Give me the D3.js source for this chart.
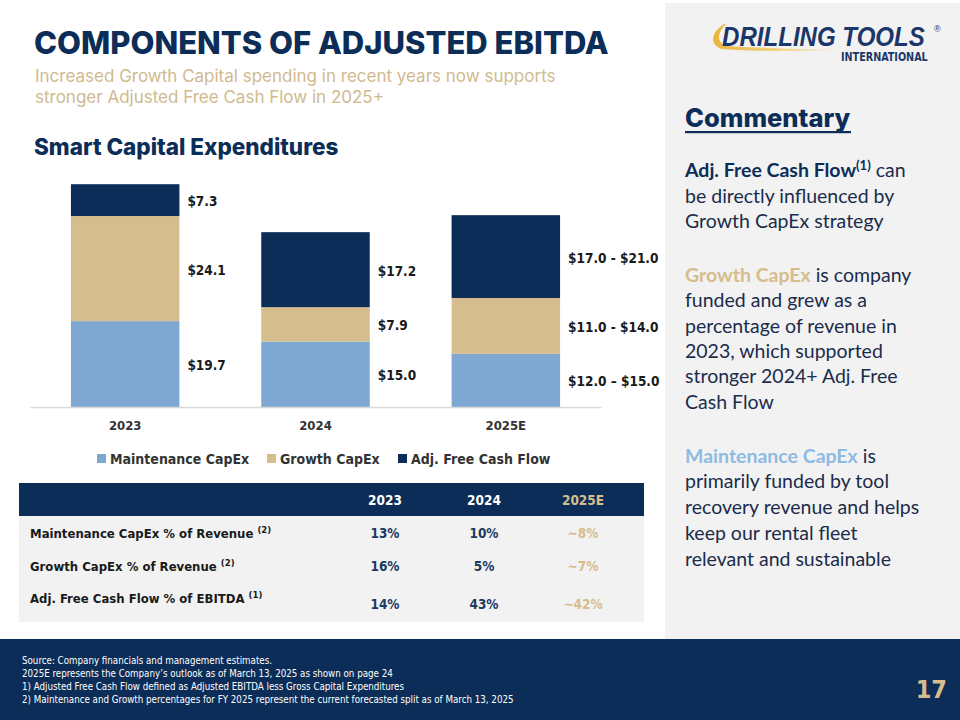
<!DOCTYPE html>
<html>
<head>
<meta charset="utf-8">
<script src="https://cdn.jsdelivr.net/npm/d3@7"></script>
<style>
  body { margin: 0; background: #fff; }
  svg { display: block; }
</style>
</head>
<body>
<div id="chart"></div>
<script>
// chart data
var years = ["2023", "2024", "2025E"];
var maintenance = [19.7, 15.0, 12.2];
var growth = [24.1, 7.9, 12.8];
var freeCash = [7.3, 17.2, 19.0];
var maintLabels = ["$19.7", "$15.0", "$12.0 \u2013 $15.0"];
var growthLabels = ["$24.1", "$7.9", "$11.0 - $14.0"];
var cashLabels = ["$7.3", "$17.2", "$17.0 - $21.0"];
var seriesNames = ["Maintenance CapEx", "Growth CapEx", "Adj. Free Cash Flow"];

// table data
var tableCols = ["2023", "2024", "2025E"];
var tableRows = ["Maintenance CapEx % of Revenue", "Growth CapEx % of Revenue", "Adj. Free Cash Flow % of EBITDA"];
var tableNotes = ["(2)", "(2)", "(1)"];
var tableValues = [["13%", "10%", "~8%"], ["16%", "5%", "~7%"], ["14%", "43%", "~42%"]];

var footNotes = [
  "Source: Company financials and management estimates.",
  "2025E represents the Company\u2019s outlook as of March 13, 2025 as shown on page 24",
  "1)   Adjusted Free Cash Flow defined as Adjusted EBITDA less Gross Capital Expenditures",
  "2)  Maintenance and Growth percentages for FY 2025 represent the current forecasted split as of March 13, 2025"
];

var navy = "#0c2d57", tan = "#d5bd8d", blue = "#7ea8d1";
var colors = [blue, tan, navy];
var narrow = "'Liberation Sans Narrow', 'DejaVu Sans Condensed', sans-serif";
var body = "Lato, 'Open Sans', sans-serif";
var heading = "Inter, 'Open Sans', sans-serif";

var svg = d3.select("#chart").append("svg")
    .attr("width", 960)
    .attr("height", 720);

// right panel + footer band
svg.append("rect").attr("x", 665).attr("y", 3).attr("width", 295).attr("height", 637).attr("fill", "#f2f2f2");
svg.append("rect").attr("x", 0).attr("y", 639).attr("width", 960).attr("height", 81).attr("fill", navy);

// titles
svg.append("text").attr("x", 34).attr("y", 54)
    .attr("font-family", heading).attr("font-weight", 800).attr("font-size", 31)
    .attr("fill", navy).text("COMPONENTS OF ADJUSTED EBITDA");
svg.append("text").attr("x", 35).attr("y", 82)
    .attr("font-family", heading).attr("font-size", 17).attr("fill", "#d0ba8e")
    .selectAll("tspan").data(["Increased Growth Capital spending in recent years now supports", "stronger Adjusted Free Cash Flow in 2025+"])
    .enter().append("tspan").attr("x", 35).attr("dy", function(d, i) { return i ? 21 : 0; }).text(function(d) { return d; });
svg.append("text").attr("x", 34).attr("y", 155)
    .attr("font-family", heading).attr("font-weight", 800).attr("font-size", 22.5)
    .attr("fill", navy).text("Smart Capital Expenditures");

// stacked bars
var x = d3.scaleBand().domain(years).range([30, 601]).paddingInner(0.43).paddingOuter(0.215);
var y = d3.scaleLinear().domain([0, 55]).range([407, 167.2]);

var stackData = years.map(function(yr, i) {
  return { year: yr, m: maintenance[i], g: growth[i], f: freeCash[i] };
});
var stack = d3.stack().keys(["m", "g", "f"])(stackData);
var labelSets = [maintLabels, growthLabels, cashLabels];

var g = svg.append("g").attr("class", "bars");
g.selectAll("g.series")
  .data(stack)
  .enter().append("g")
    .attr("class", "series")
    .attr("fill", function(d, i) { return colors[i]; })
  .selectAll("rect")
  .data(function(d) { return d; })
  .enter().append("rect")
    .attr("x", function(d) { return x(d.data.year); })
    .attr("y", function(d) { return y(d[1]); })
    .attr("width", x.bandwidth())
    .attr("height", function(d) { return y(d[0]) - y(d[1]); });

stack.forEach(function(s, si) {
  g.selectAll("text.l" + si)
    .data(s)
    .enter().append("text")
      .attr("class", "l" + si)
      .attr("x", function(d) { return x(d.data.year) + x.bandwidth() + 8; })
      .attr("y", function(d) { return (y(d[0]) + y(d[1])) / 2 + 6; })
      .attr("font-family", narrow).attr("font-weight", 700).attr("font-size", 13.5)
      .attr("fill", "#1a1a1a")
      .text(function(d, i) { return labelSets[si][i]; });
});

// x axis
var xAxis = svg.append("g").attr("transform", "translate(0,407)")
    .call(d3.axisBottom(x).tickSize(0).tickPadding(14));
xAxis.select(".domain").attr("stroke", "#d9d9d9").attr("stroke-width", 1.5);
xAxis.selectAll("text")
    .attr("font-family", narrow).attr("font-weight", 700).attr("font-size", 13)
    .attr("fill", "#333");

// legend
var legendX = [97, 267, 398];
var legend = svg.append("g").selectAll("g").data(seriesNames).enter().append("g")
    .attr("transform", function(d, i) { return "translate(" + legendX[i] + ",453)"; });
legend.append("rect").attr("width", 9).attr("height", 9).attr("y", 1)
    .attr("fill", function(d, i) { return colors[i]; });
legend.append("text").attr("x", 13).attr("y", 10.5)
    .attr("font-family", narrow).attr("font-weight", 700).attr("font-size", 14)
    .attr("fill", "#333").text(function(d) { return d; });

// table
var colX = d3.scalePoint().domain(tableCols).range([385, 583]);
svg.append("rect").attr("x", 19).attr("y", 516).attr("width", 625).attr("height", 106).attr("fill", "#f2f2f2");
svg.append("rect").attr("x", 19).attr("y", 483).attr("width", 625).attr("height", 33).attr("fill", navy);
svg.append("g").selectAll("text").data(tableCols).enter().append("text")
    .attr("x", function(d) { return colX(d); }).attr("y", 505)
    .attr("text-anchor", "middle")
    .attr("font-family", narrow).attr("font-weight", 700).attr("font-size", 13.5)
    .attr("fill", function(d, i) { return i === 2 ? tan : "#fff"; })
    .text(function(d) { return d; });

var rowY = [538, 571, 603];
var valY = [538, 571, 609];
var rows = svg.append("g").selectAll("g").data(tableRows).enter().append("g");
var rowLabel = rows.append("text").attr("x", 30).attr("y", function(d, i) { return rowY[i]; })
    .attr("font-family", narrow).attr("font-weight", 700).attr("font-size", 13)
    .attr("fill", "#1a1a1a");
rowLabel.append("tspan").text(function(d) { return d + " "; });
rowLabel.append("tspan").attr("font-size", 9.5).attr("dy", -5).text(function(d, i) { return tableNotes[i]; });
rows.selectAll("text.v").data(function(d, i) { return tableValues[i].map(function(v) { return { v: v, r: i }; }); })
  .enter().append("text").attr("class", "v")
    .attr("x", function(d, j) { return colX(tableCols[j]); })
    .attr("y", function(d) { return valY[d.r]; })
    .attr("text-anchor", "middle")
    .attr("font-family", narrow).attr("font-weight", 700).attr("font-size", 13.5)
    .attr("fill", function(d, j) { return j === 2 ? tan : "#1e3a64"; })
    .text(function(d) { return d.v; });

// logo
var defs = svg.append("defs");
var grad = defs.append("linearGradient").attr("id", "gold").attr("x1", "0").attr("x2", "1");
grad.append("stop").attr("offset", "0").attr("stop-color", "#e9b53a");
grad.append("stop").attr("offset", "0.5").attr("stop-color", "#f2d58a");
grad.append("stop").attr("offset", "1").attr("stop-color", "#f2d58a").attr("stop-opacity", 0);
svg.append("path")
    .attr("d", "M724,24 C712,32 708,44 722,49 C760,52 800,51 850,50 C800,49 760,48 727,46 C716,43 717,32 726,24 Z")
    .attr("fill", "url(#gold)");
svg.append("text").attr("transform", "translate(722,46) scale(0.86,1)")
    .attr("font-family", "'Liberation Sans', Arial, sans-serif").attr("font-weight", 700)
    .attr("font-style", "italic").attr("font-size", 28)
    .attr("fill", "#1b3769").text("DRILLING TOOLS");
svg.append("text").attr("x", 934).attr("y", 32)
    .attr("font-family", "'Liberation Sans', Arial, sans-serif").attr("font-size", 9)
    .attr("fill", "#1b3769").text("\u00ae");
svg.append("text").attr("transform", "translate(841,61) scale(0.93,1)")
    .attr("font-family", narrow).attr("font-weight", 700).attr("font-size", 11.5)
    .attr("fill", "#1b3769").text("INTERNATIONAL");

// commentary
svg.append("text").attr("x", 685).attr("y", 127)
    .attr("font-family", heading).attr("font-weight", 800).attr("font-size", 25.5)
    .attr("fill", navy).text("Commentary");
svg.append("rect").attr("x", 685).attr("y", 131).attr("width", 166).attr("height", 2.2).attr("fill", navy);

var commentary = [
  [{ t: "Adj. Free Cash Flow", b: 1, c: navy }, { t: "(1)", b: 1, c: navy, sup: 1 }, { t: " can" }],
  [{ t: "be directly influenced by" }],
  [{ t: "Growth CapEx strategy" }],
  [{ t: "Growth CapEx", b: 1, c: tan }, { t: " is company" }],
  [{ t: "funded and grew as a" }],
  [{ t: "percentage of revenue in" }],
  [{ t: "2023, which supported" }],
  [{ t: "stronger 2024+ Adj. Free" }],
  [{ t: "Cash Flow" }],
  [{ t: "Maintenance CapEx", b: 1, c: "#8fbae2" }, { t: " is" }],
  [{ t: "primarily funded by tool" }],
  [{ t: "recovery revenue and helps" }],
  [{ t: "keep our rental fleet" }],
  [{ t: "relevant and sustainable" }]
];
var lineY = [177, 203, 228, 282, 307, 333, 358, 383, 409, 463, 488, 514, 540, 566];

var cLines = svg.append("g").selectAll("text").data(commentary).enter().append("text")
    .attr("x", 685).attr("y", function(d, i) { return lineY[i]; })
    .attr("font-family", body).attr("font-size", 19.5).attr("fill", "#1b2c4b");
cLines.selectAll("tspan").data(function(d) { return d; }).enter().append("tspan")
    .attr("font-weight", function(d) { return d.b ? 700 : 400; })
    .attr("fill", function(d) { return d.c || null; })
    .attr("font-size", function(d) { return d.sup ? 13 : null; })
    .attr("dy", function(d, i, n) { return d.sup ? -7 : (i > 0 && n[i - 1].__data__.sup ? 7 : 0); })
    .text(function(d) { return d.t; });

// footer
svg.append("g").selectAll("text").data(footNotes).enter().append("text")
    .attr("x", 22).attr("y", function(d, i) { return 664 + i * 13; })
    .attr("font-family", narrow).attr("font-size", 9.7).attr("fill", "#fff")
    .text(function(d) { return d; });
svg.append("text").attr("x", 947).attr("y", 698).attr("text-anchor", "end")
    .attr("font-family", narrow).attr("font-weight", 700).attr("font-size", 25)
    .attr("fill", tan).text("17");
</script>
</body>
</html>
